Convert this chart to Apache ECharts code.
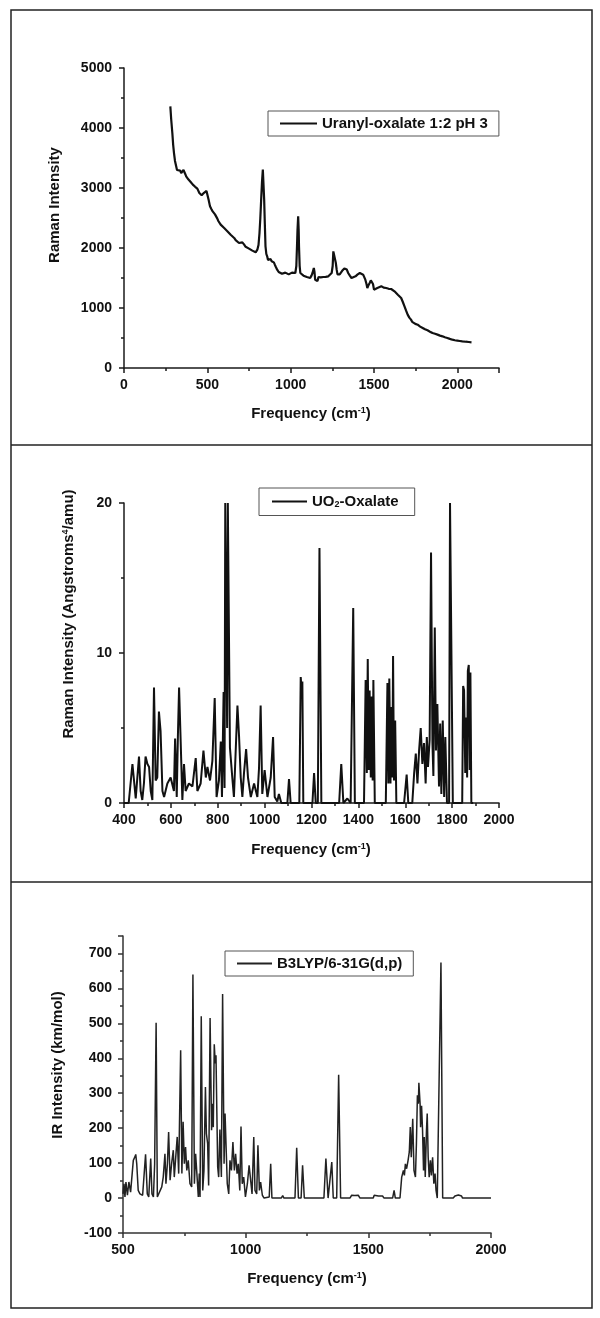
<!DOCTYPE html>
<html><head><meta charset="utf-8">
<script src="https://cdn.jsdelivr.net/npm/echarts@6/dist/echarts.min.js"></script>
<style>html,body{margin:0;padding:0;background:#fff}#c{width:600px;height:1318px}</style>
</head><body><div id="c"></div>
<script>
// ---------- Panel 1: experimental Raman spectrum ----------
const expName = 'Uranyl-oxalate 1:2 pH 3';
const expFreq = [278,283,290,295,300,306,313,318,323,330,337,343,350,357,363,368,373,380,387,393,400,407,413,420,427,433,440,447,452,460,466,472,480,488,495,502,508,516,524,532,540,546,552,560,566,571,580,590,601,610,620,631,640,650,661,670,680,690,700,710,720,730,740,750,760,770,780,790,800,807,813,818,823,828,833,836,841,845,849,854,859,864,869,874,879,886,893,899,905,912,919,928,938,948,958,968,978,988,998,1008,1018,1028,1034,1038,1041,1045,1048,1050,1054,1058,1067,1077,1087,1097,1107,1117,1125,1131,1139,1143,1147,1155,1161,1167,1180,1196,1210,1226,1238,1246,1252,1256,1262,1266,1271,1276,1281,1286,1294,1302,1309,1315,1322,1329,1337,1345,1355,1365,1377,1389,1402,1415,1425,1435,1442,1448,1455,1460,1467,1474,1481,1488,1494,1500,1510,1520,1532,1544,1558,1573,1588,1603,1613,1623,1633,1643,1653,1663,1673,1683,1692,1702,1712,1722,1729,1736,1748,1762,1777,1792,1806,1821,1836,1851,1866,1881,1896,1911,1925,1940,1955,1970,1985,2000,2015,2030,2050,2069,2085];
const expIntensity = [4361,4150,3917,3720,3583,3450,3361,3300,3306,3270,3290,3250,3230,3300,3278,3230,3194,3180,3140,3111,3100,3070,3056,3080,3020,3000,2990,2960,2917,2930,2880,2889,2920,2944,2950,2917,2800,2694,2650,2611,2600,2560,2528,2490,2450,2417,2390,2360,2333,2300,2280,2250,2220,2190,2167,2130,2110,2083,2060,2094,2060,2020,2000,1990,1975,1956,1940,1928,1972,2050,2250,2500,2806,3100,3306,3280,2806,2400,2028,1900,1861,1800,1778,1790,1817,1780,1806,1760,1722,1680,1639,1600,1583,1570,1556,1590,1583,1560,1556,1590,1611,1583,1700,2028,2300,2528,2300,2028,1700,1583,1560,1539,1520,1517,1510,1500,1540,1583,1667,1600,1472,1500,1450,1517,1510,1517,1520,1528,1540,1583,1700,1944,1950,1917,1750,1639,1560,1528,1560,1583,1620,1650,1660,1667,1640,1583,1540,1500,1520,1528,1560,1583,1570,1556,1530,1472,1400,1333,1380,1417,1460,1483,1400,1306,1320,1333,1350,1361,1340,1333,1320,1317,1300,1278,1250,1222,1200,1167,1100,1028,960,889,840,806,770,750,735,722,690,667,645,628,605,583,570,556,540,528,512,500,485,472,462,456,450,444,438,433,428];
const p1XRange = [0, 2250], p1XStep = 500;
const p1YRange = [0, 5000], p1YStep = 1000;

// ---------- Panel 2: calculated Raman activities ----------
const calcName = 'UO2-Oxalate';
const calcFreq = [400,420,436,450,464,471,478,485,492,500,507,514,521,528,535,542,549,556,564,571,585,599,613,618,625,630,635,642,649,656,663,677,692,706,713,727,739,749,756,767,777,787,795,805,813,818,825,829,832,837,840,843,849,852,862,869,884,891,898,905,912,921,929,941,955,969,976,983,990,1000,1012,1026,1036,1043,1054,1061,1071,1097,1104,1111,1148,1154,1158,1161,1165,1204,1211,1218,1227,1234,1242,1318,1327,1336,1353,1367,1371,1378,1385,1424,1431,1436,1440,1444,1448,1453,1457,1461,1464,1470,1517,1524,1528,1532,1537,1541,1545,1548,1552,1557,1562,1595,1606,1613,1630,1638,1645,1652,1659,1666,1673,1680,1687,1692,1697,1704,1710,1716,1720,1726,1731,1737,1744,1749,1754,1760,1766,1771,1778,1787,1791,1798,1803,1843,1847,1851,1856,1860,1864,1867,1871,1875,1878,1882,1890];
const calcIntensity = [0,0,2.6,0.3,3.1,0.8,0.2,1.3,3.1,2.6,2.4,0.8,0.2,7.7,1.5,1.7,6.1,4.8,0.8,0.4,1.3,1.7,0.8,4.3,0.4,4.5,7.7,4.0,0.2,2.6,0.8,1.3,1.1,3.0,0.8,1.3,3.5,1.7,2.4,1.5,2.8,7.0,0.4,1.5,4.1,0.4,7.4,1.0,20,20,5,20,20,3.7,1.7,0.4,6.5,4.4,1.7,0.4,2.0,3.6,1.7,0.4,1.3,0.4,2.3,6.5,0.6,2.2,0.4,1.7,4.4,0.4,0.1,0.6,0,0,1.6,0,0,8.4,7.5,8.1,0,0,2.0,0,0,17.0,0,0,2.6,0,0.3,0,0,13.0,0,0,8.2,2.0,9.6,2.2,7.5,1.7,7.1,1.5,8.2,0,0,8.0,1.3,8.3,1.3,6.4,1.7,9.8,1.5,5.5,0,0,1.9,0,0,2.0,3.3,1.3,3.5,5.0,2.6,4.0,1.3,4.4,2.4,4.2,16.7,4.0,1.8,11.7,3.5,6.6,1.1,5.3,0.6,5.5,0.4,4.4,0,0,20,20,0,0,7.8,7.5,2.0,5.7,1.7,8.8,9.2,2.2,8.7,0,0];
const p2XRange = [400, 2000], p2XStep = 200;
const p2YRange = [0, 20], p2YStep = 10;

// ---------- Panel 3: calculated IR intensities ----------
const irName = 'B3LYP/6-31G(d,p)';
const irFreq = [500,504,508,512,518,524,531,538,542,548,552,556,562,569,580,586,592,599,605,613,618,624,629,635,640,648,658,664,671,675,681,686,692,698,705,709,715,721,727,735,740,745,750,755,760,766,773,780,785,791,796,802,807,811,814,819,825,830,836,840,845,849,855,861,865,868,872,876,879,882,886,890,895,901,906,912,916,920,925,931,936,942,948,954,959,965,970,976,981,986,992,999,1007,1014,1019,1026,1033,1038,1045,1050,1056,1061,1068,1075,1096,1102,1107,1145,1151,1156,1201,1208,1215,1226,1232,1239,1319,1327,1336,1344,1351,1357,1371,1379,1387,1425,1432,1438,1445,1452,1459,1466,1520,1524,1532,1541,1549,1558,1564,1599,1605,1610,1629,1636,1643,1647,1651,1656,1662,1667,1671,1675,1681,1686,1692,1696,1700,1704,1706,1711,1713,1717,1721,1725,1728,1732,1737,1740,1744,1748,1753,1757,1762,1767,1772,1776,1781,1789,1796,1803,1846,1853,1860,1867,1874,1880,1884,2000];
const irIntensity = [12,41,3,46,8,46,17,12,108,117,125,98,22,12,8,12,125,12,3,113,12,3,98,502,3,3,32,60,127,41,98,189,51,98,137,60,117,175,70,423,70,218,98,146,79,108,41,32,640,41,127,60,3,70,3,520,22,79,318,184,156,36,515,194,270,203,440,385,409,270,89,60,196,60,584,98,242,246,41,12,108,79,160,79,127,70,98,22,205,41,60,3,41,94,60,12,175,22,12,151,22,46,8,0,3,98,0,0,7,0,0,144,0,0,94,0,0,113,0,0,103,0,0,353,0,0,8,4,7,5,8,0,0,8,4,6,3,6,0,0,22,0,0,60,79,65,98,84,108,132,203,117,227,79,60,156,294,270,330,270,203,264,194,79,175,60,194,242,117,60,108,65,117,41,70,22,0,0,674,0,0,6,4,9,5,6,0,0];
const p3XRange = [500, 2000], p3XStep = 500;
const p3YRange = [-100, 750], p3YStep = 100;

// ---------- Chart ----------
const FONT = '"Liberation Sans", Arial, Helvetica, sans-serif';
const INK = '#111';
const pairs = (xs, ys) => xs.map((x, i) => [x, ys[i]]);

function mkAxis(gridIndex, range, step, opts) {
  const col = opts.color || '#1a1a1a';
  return {
    type: 'value', gridIndex, min: range[0], max: range[1], interval: step,
    axisLine: { show: true, onZero: false, lineStyle: { color: col, width: 1.5 } },
    axisTick: { show: true, inside: false, length: 5, lineStyle: { color: col, width: 1.5 } },
    minorTick: { show: true, splitNumber: 2, length: 3, lineStyle: { color: col, width: 1.5 } },
    splitLine: { show: false }, minorSplitLine: { show: false },
    axisLabel: { margin: opts.margin, color: INK, fontSize: 14, fontWeight: 'bold', fontFamily: FONT,
                 formatter: v => String(v),
                 showMaxLabel: opts.showMax, showMinLabel: true }
  };
}

const supRich = { sup: { fontSize: 9, fontWeight: 'bold', fontFamily: FONT, verticalAlign: 'top', padding: [0, 0, 7, 0], fill: INK } };
function title(text, x, y, rotate) {
  return {
    type: 'text', x, y, rotation: rotate ? Math.PI / 2 : 0, silent: true,
    style: { text, fontSize: 15, fontWeight: 'bold', fontFamily: FONT, fill: INK,
             align: 'center', verticalAlign: 'middle', rich: supRich }
  };
}

function mkLegend(name, left, top, padding, itemWidth, extra) {
  return Object.assign({
    data: [name], left, top, padding, itemWidth, itemHeight: 2, icon: 'rect',
    borderColor: '#555', borderWidth: 1, backgroundColor: '#fff',
    selectedMode: false,
    textStyle: { fontSize: 15, fontWeight: 'bold', fontFamily: FONT, color: INK }
  }, extra || {});
}

const chart = echarts.init(document.getElementById('c'), null, { renderer: 'canvas' });
chart.setOption({
  animation: false,
  backgroundColor: '#fff',
  grid: [
    { left: 124, top: 68, width: 375, height: 300 },
    { left: 124, top: 503, width: 375, height: 300 },
    { left: 123, top: 936, width: 368, height: 297 }
  ],
  xAxis: [
    mkAxis(0, p1XRange, p1XStep, { margin: 10, showMax: false }),
    mkAxis(1, p2XRange, p2XStep, { margin: 10, showMax: true }),
    mkAxis(2, p3XRange, p3XStep, { margin: 10, showMax: true, color: '#333' })
  ],
  yAxis: [
    mkAxis(0, p1YRange, p1YStep, { margin: 12, showMax: true }),
    mkAxis(1, p2YRange, p2YStep, { margin: 12, showMax: true }),
    mkAxis(2, p3YRange, p3YStep, { margin: 11, showMax: false, color: '#333' })
  ],
  legend: [
    mkLegend(expName, 268, 111, [5, 11, 5, 12], 37),
    mkLegend(calcName, 259, 488, [6, 16, 6, 13], 35, {
      formatter: () => 'UO{sub|2}-Oxalate',
      textStyle: { fontSize: 15, fontWeight: 'bold', fontFamily: FONT, color: INK,
        rich: { sub: { fontSize: 9, fontWeight: 'bold', fontFamily: FONT, color: INK, verticalAlign: 'bottom', padding: [7, 0, 0, 0] } } }
    }),
    mkLegend(irName, 225, 951, [5, 11, 5, 12], 35)
  ],
  series: [
    { type: 'line', name: expName, xAxisIndex: 0, yAxisIndex: 0, data: pairs(expFreq, expIntensity),
      showSymbol: false, symbol: 'none', clip: true, lineStyle: { color: '#111', width: 2.2 }, itemStyle: { color: '#111' } },
    { type: 'line', name: calcName, xAxisIndex: 1, yAxisIndex: 1, data: pairs(calcFreq, calcIntensity),
      showSymbol: false, symbol: 'none', clip: true, lineStyle: { color: '#111', width: 2 }, itemStyle: { color: '#111' } },
    { type: 'line', name: irName, xAxisIndex: 2, yAxisIndex: 2, data: pairs(irFreq, irIntensity),
      showSymbol: false, symbol: 'none', clip: true, lineStyle: { color: '#222', width: 1.5 }, itemStyle: { color: '#222' } }
  ],
  graphic: [
    { type: 'rect', silent: true, shape: { x: 11, y: 10, width: 581, height: 1298 }, style: { fill: 'none', stroke: '#222', lineWidth: 1.5 } },
    { type: 'line', silent: true, shape: { x1: 11, y1: 445, x2: 592, y2: 445 }, style: { stroke: '#222', lineWidth: 1.5 } },
    { type: 'line', silent: true, shape: { x1: 11, y1: 882, x2: 592, y2: 882 }, style: { stroke: '#222', lineWidth: 1.5 } },
    title('Frequency (cm{sup|-1})', 311, 414, false),
    title('Frequency (cm{sup|-1})', 311, 850, false),
    title('Frequency (cm{sup|-1})', 307, 1279, false),
    title('Raman Intensity', 55, 205, true),
    title('Raman Intensity (Angstroms{sup|4}/amu)', 69, 614, true),
    title('IR Intensity (km/mol)', 58, 1065, true)
  ]
});
</script>
</body></html>
